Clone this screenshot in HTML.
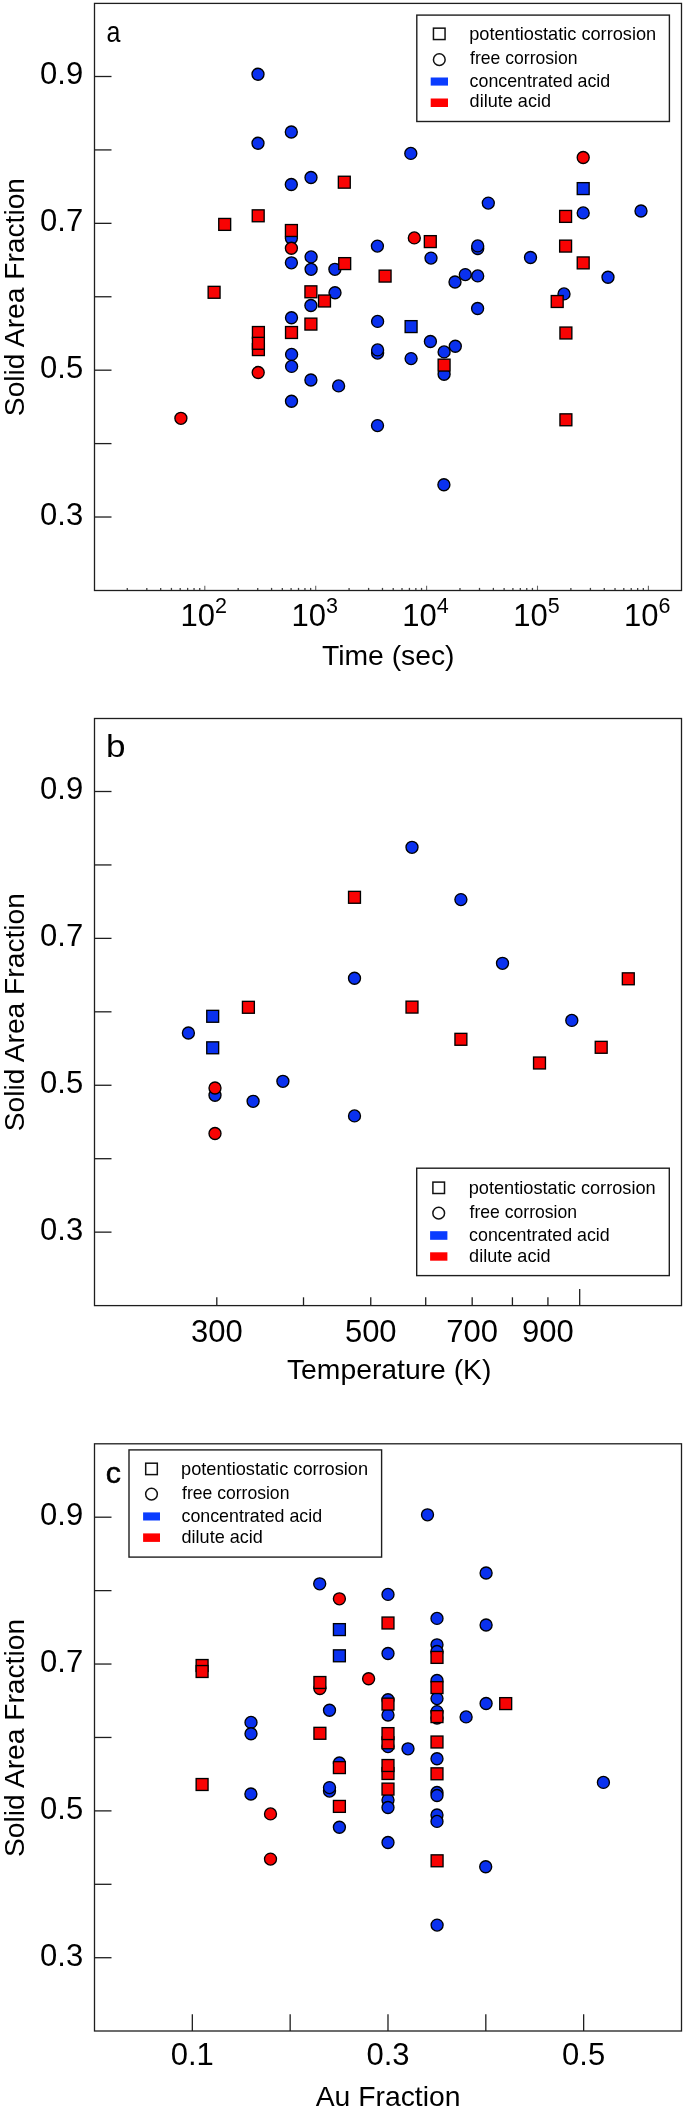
<!DOCTYPE html>
<html><head><meta charset="utf-8"><style>
html,body{margin:0;padding:0;background:#fff;}
body{width:685px;height:2109px;overflow:hidden;}
svg{display:block;will-change:transform;}
</style></head><body>
<svg width="685" height="2109" viewBox="0 0 685 2109" font-family='"Liberation Sans", sans-serif' fill="#000">
<rect width="685" height="2109" fill="#fff"/>
<line x1="127.28" y1="590.50" x2="127.28" y2="587.90" stroke="#444" stroke-width="1.3"/>
<line x1="146.81" y1="590.50" x2="146.81" y2="587.90" stroke="#444" stroke-width="1.3"/>
<line x1="160.67" y1="590.50" x2="160.67" y2="587.90" stroke="#444" stroke-width="1.3"/>
<line x1="171.42" y1="590.50" x2="171.42" y2="587.90" stroke="#444" stroke-width="1.3"/>
<line x1="180.20" y1="590.50" x2="180.20" y2="587.90" stroke="#444" stroke-width="1.3"/>
<line x1="187.62" y1="590.50" x2="187.62" y2="587.90" stroke="#444" stroke-width="1.3"/>
<line x1="194.05" y1="590.50" x2="194.05" y2="587.90" stroke="#444" stroke-width="1.3"/>
<line x1="199.73" y1="590.50" x2="199.73" y2="587.90" stroke="#444" stroke-width="1.3"/>
<line x1="204.80" y1="590.50" x2="204.80" y2="585.70" stroke="#666" stroke-width="1.1"/>
<line x1="238.18" y1="590.50" x2="238.18" y2="587.90" stroke="#444" stroke-width="1.3"/>
<line x1="257.71" y1="590.50" x2="257.71" y2="587.90" stroke="#444" stroke-width="1.3"/>
<line x1="271.57" y1="590.50" x2="271.57" y2="587.90" stroke="#444" stroke-width="1.3"/>
<line x1="282.32" y1="590.50" x2="282.32" y2="587.90" stroke="#444" stroke-width="1.3"/>
<line x1="291.10" y1="590.50" x2="291.10" y2="587.90" stroke="#444" stroke-width="1.3"/>
<line x1="298.52" y1="590.50" x2="298.52" y2="587.90" stroke="#444" stroke-width="1.3"/>
<line x1="304.95" y1="590.50" x2="304.95" y2="587.90" stroke="#444" stroke-width="1.3"/>
<line x1="310.63" y1="590.50" x2="310.63" y2="587.90" stroke="#444" stroke-width="1.3"/>
<line x1="315.70" y1="590.50" x2="315.70" y2="585.70" stroke="#666" stroke-width="1.1"/>
<line x1="349.08" y1="590.50" x2="349.08" y2="587.90" stroke="#444" stroke-width="1.3"/>
<line x1="368.61" y1="590.50" x2="368.61" y2="587.90" stroke="#444" stroke-width="1.3"/>
<line x1="382.47" y1="590.50" x2="382.47" y2="587.90" stroke="#444" stroke-width="1.3"/>
<line x1="393.22" y1="590.50" x2="393.22" y2="587.90" stroke="#444" stroke-width="1.3"/>
<line x1="402.00" y1="590.50" x2="402.00" y2="587.90" stroke="#444" stroke-width="1.3"/>
<line x1="409.42" y1="590.50" x2="409.42" y2="587.90" stroke="#444" stroke-width="1.3"/>
<line x1="415.85" y1="590.50" x2="415.85" y2="587.90" stroke="#444" stroke-width="1.3"/>
<line x1="421.53" y1="590.50" x2="421.53" y2="587.90" stroke="#444" stroke-width="1.3"/>
<line x1="426.60" y1="590.50" x2="426.60" y2="585.70" stroke="#666" stroke-width="1.1"/>
<line x1="459.98" y1="590.50" x2="459.98" y2="587.90" stroke="#444" stroke-width="1.3"/>
<line x1="479.51" y1="590.50" x2="479.51" y2="587.90" stroke="#444" stroke-width="1.3"/>
<line x1="493.37" y1="590.50" x2="493.37" y2="587.90" stroke="#444" stroke-width="1.3"/>
<line x1="504.12" y1="590.50" x2="504.12" y2="587.90" stroke="#444" stroke-width="1.3"/>
<line x1="512.90" y1="590.50" x2="512.90" y2="587.90" stroke="#444" stroke-width="1.3"/>
<line x1="520.32" y1="590.50" x2="520.32" y2="587.90" stroke="#444" stroke-width="1.3"/>
<line x1="526.75" y1="590.50" x2="526.75" y2="587.90" stroke="#444" stroke-width="1.3"/>
<line x1="532.43" y1="590.50" x2="532.43" y2="587.90" stroke="#444" stroke-width="1.3"/>
<line x1="537.50" y1="590.50" x2="537.50" y2="585.70" stroke="#666" stroke-width="1.1"/>
<line x1="570.88" y1="590.50" x2="570.88" y2="587.90" stroke="#444" stroke-width="1.3"/>
<line x1="590.41" y1="590.50" x2="590.41" y2="587.90" stroke="#444" stroke-width="1.3"/>
<line x1="604.27" y1="590.50" x2="604.27" y2="587.90" stroke="#444" stroke-width="1.3"/>
<line x1="615.02" y1="590.50" x2="615.02" y2="587.90" stroke="#444" stroke-width="1.3"/>
<line x1="623.80" y1="590.50" x2="623.80" y2="587.90" stroke="#444" stroke-width="1.3"/>
<line x1="631.22" y1="590.50" x2="631.22" y2="587.90" stroke="#444" stroke-width="1.3"/>
<line x1="637.65" y1="590.50" x2="637.65" y2="587.90" stroke="#444" stroke-width="1.3"/>
<line x1="643.33" y1="590.50" x2="643.33" y2="587.90" stroke="#444" stroke-width="1.3"/>
<line x1="648.40" y1="590.50" x2="648.40" y2="585.70" stroke="#666" stroke-width="1.1"/>
<text x="180.50" y="626.1" font-size="31">10<tspan dy="-13.6" font-size="21.5">2</tspan></text>
<text x="291.40" y="626.1" font-size="31">10<tspan dy="-13.6" font-size="21.5">3</tspan></text>
<text x="402.30" y="626.1" font-size="31">10<tspan dy="-13.6" font-size="21.5">4</tspan></text>
<text x="513.20" y="626.1" font-size="31">10<tspan dy="-13.6" font-size="21.5">5</tspan></text>
<text x="624.10" y="626.1" font-size="31">10<tspan dy="-13.6" font-size="21.5">6</tspan></text>
<text x="388.25" y="664.60" font-size="28.3" text-anchor="middle" >Time (sec)</text>
<line x1="94.50" y1="517.02" x2="111.50" y2="517.02" stroke="#1e1e1e" stroke-width="1.3"/>
<line x1="94.50" y1="443.60" x2="111.50" y2="443.60" stroke="#1e1e1e" stroke-width="1.3"/>
<line x1="94.50" y1="370.18" x2="111.50" y2="370.18" stroke="#1e1e1e" stroke-width="1.3"/>
<line x1="94.50" y1="296.76" x2="111.50" y2="296.76" stroke="#1e1e1e" stroke-width="1.3"/>
<line x1="94.50" y1="223.34" x2="111.50" y2="223.34" stroke="#1e1e1e" stroke-width="1.3"/>
<line x1="94.50" y1="149.92" x2="111.50" y2="149.92" stroke="#1e1e1e" stroke-width="1.3"/>
<line x1="94.50" y1="76.50" x2="111.50" y2="76.50" stroke="#1e1e1e" stroke-width="1.3"/>
<text x="83.20" y="524.92" font-size="31" text-anchor="end" >0.3</text>
<text x="83.20" y="378.08" font-size="31" text-anchor="end" >0.5</text>
<text x="83.20" y="231.24" font-size="31" text-anchor="end" >0.7</text>
<text x="83.20" y="84.40" font-size="31" text-anchor="end" >0.9</text>
<text transform="translate(23.6,297.05) rotate(-90)" font-size="28.2" text-anchor="middle">Solid Area Fraction</text>
<circle cx="258.00" cy="74.20" r="6.0" fill="#0a31ef" stroke="#000" stroke-width="1.35"/>
<circle cx="291.30" cy="132.00" r="6.0" fill="#0a31ef" stroke="#000" stroke-width="1.35"/>
<circle cx="258.00" cy="143.20" r="6.0" fill="#0a31ef" stroke="#000" stroke-width="1.35"/>
<circle cx="410.80" cy="153.40" r="6.0" fill="#0a31ef" stroke="#000" stroke-width="1.35"/>
<circle cx="311.00" cy="177.50" r="6.0" fill="#0a31ef" stroke="#000" stroke-width="1.35"/>
<circle cx="291.30" cy="184.50" r="6.0" fill="#0a31ef" stroke="#000" stroke-width="1.35"/>
<circle cx="488.30" cy="203.10" r="6.0" fill="#0a31ef" stroke="#000" stroke-width="1.35"/>
<circle cx="583.20" cy="212.90" r="6.0" fill="#0a31ef" stroke="#000" stroke-width="1.35"/>
<circle cx="641.00" cy="211.00" r="6.0" fill="#0a31ef" stroke="#000" stroke-width="1.35"/>
<circle cx="291.40" cy="238.20" r="6.0" fill="#0a31ef" stroke="#000" stroke-width="1.35"/>
<circle cx="311.10" cy="256.90" r="6.0" fill="#0a31ef" stroke="#000" stroke-width="1.35"/>
<circle cx="291.40" cy="262.80" r="6.0" fill="#0a31ef" stroke="#000" stroke-width="1.35"/>
<circle cx="311.10" cy="269.30" r="6.0" fill="#0a31ef" stroke="#000" stroke-width="1.35"/>
<circle cx="334.90" cy="269.30" r="6.0" fill="#0a31ef" stroke="#000" stroke-width="1.35"/>
<circle cx="377.40" cy="246.10" r="6.0" fill="#0a31ef" stroke="#000" stroke-width="1.35"/>
<circle cx="431.00" cy="258.10" r="6.0" fill="#0a31ef" stroke="#000" stroke-width="1.35"/>
<circle cx="477.70" cy="248.50" r="6.0" fill="#0a31ef" stroke="#000" stroke-width="1.35"/>
<circle cx="477.70" cy="245.90" r="6.0" fill="#0a31ef" stroke="#000" stroke-width="1.35"/>
<circle cx="530.50" cy="257.50" r="6.0" fill="#0a31ef" stroke="#000" stroke-width="1.35"/>
<circle cx="455.00" cy="282.00" r="6.0" fill="#0a31ef" stroke="#000" stroke-width="1.35"/>
<circle cx="465.30" cy="274.60" r="6.0" fill="#0a31ef" stroke="#000" stroke-width="1.35"/>
<circle cx="477.70" cy="275.90" r="6.0" fill="#0a31ef" stroke="#000" stroke-width="1.35"/>
<circle cx="608.00" cy="277.20" r="6.0" fill="#0a31ef" stroke="#000" stroke-width="1.35"/>
<circle cx="335.00" cy="292.70" r="6.0" fill="#0a31ef" stroke="#000" stroke-width="1.35"/>
<circle cx="564.00" cy="293.90" r="6.0" fill="#0a31ef" stroke="#000" stroke-width="1.35"/>
<circle cx="310.90" cy="305.50" r="6.0" fill="#0a31ef" stroke="#000" stroke-width="1.35"/>
<circle cx="477.60" cy="308.50" r="6.0" fill="#0a31ef" stroke="#000" stroke-width="1.35"/>
<circle cx="291.50" cy="317.70" r="6.0" fill="#0a31ef" stroke="#000" stroke-width="1.35"/>
<circle cx="377.60" cy="321.40" r="6.0" fill="#0a31ef" stroke="#000" stroke-width="1.35"/>
<circle cx="430.40" cy="341.50" r="6.0" fill="#0a31ef" stroke="#000" stroke-width="1.35"/>
<circle cx="455.30" cy="346.20" r="6.0" fill="#0a31ef" stroke="#000" stroke-width="1.35"/>
<circle cx="444.10" cy="351.90" r="6.0" fill="#0a31ef" stroke="#000" stroke-width="1.35"/>
<circle cx="377.60" cy="353.10" r="6.0" fill="#0a31ef" stroke="#000" stroke-width="1.35"/>
<circle cx="377.60" cy="349.90" r="6.0" fill="#0a31ef" stroke="#000" stroke-width="1.35"/>
<circle cx="411.10" cy="358.60" r="6.0" fill="#0a31ef" stroke="#000" stroke-width="1.35"/>
<circle cx="444.10" cy="374.20" r="6.0" fill="#0a31ef" stroke="#000" stroke-width="1.35"/>
<circle cx="291.60" cy="354.40" r="6.0" fill="#0a31ef" stroke="#000" stroke-width="1.35"/>
<circle cx="291.60" cy="366.40" r="6.0" fill="#0a31ef" stroke="#000" stroke-width="1.35"/>
<circle cx="310.90" cy="380.00" r="6.0" fill="#0a31ef" stroke="#000" stroke-width="1.35"/>
<circle cx="338.60" cy="385.90" r="6.0" fill="#0a31ef" stroke="#000" stroke-width="1.35"/>
<circle cx="291.50" cy="401.20" r="6.0" fill="#0a31ef" stroke="#000" stroke-width="1.35"/>
<circle cx="377.50" cy="425.60" r="6.0" fill="#0a31ef" stroke="#000" stroke-width="1.35"/>
<circle cx="443.90" cy="484.70" r="6.0" fill="#0a31ef" stroke="#000" stroke-width="1.35"/>
<rect x="577.25" y="182.65" width="11.9" height="11.9" fill="#0a31ef" stroke="#000" stroke-width="1.35"/>
<rect x="405.15" y="320.65" width="11.9" height="11.9" fill="#0a31ef" stroke="#000" stroke-width="1.35"/>
<circle cx="583.20" cy="157.50" r="6.0" fill="#f80303" stroke="#000" stroke-width="1.35"/>
<circle cx="291.40" cy="248.20" r="6.0" fill="#f80303" stroke="#000" stroke-width="1.35"/>
<circle cx="414.30" cy="237.90" r="6.0" fill="#f80303" stroke="#000" stroke-width="1.35"/>
<circle cx="258.20" cy="372.50" r="6.0" fill="#f80303" stroke="#000" stroke-width="1.35"/>
<circle cx="180.90" cy="418.30" r="6.0" fill="#f80303" stroke="#000" stroke-width="1.35"/>
<rect x="338.35" y="176.25" width="11.9" height="11.9" fill="#f80303" stroke="#000" stroke-width="1.35"/>
<rect x="252.25" y="209.85" width="11.9" height="11.9" fill="#f80303" stroke="#000" stroke-width="1.35"/>
<rect x="218.75" y="218.45" width="11.9" height="11.9" fill="#f80303" stroke="#000" stroke-width="1.35"/>
<rect x="285.45" y="224.55" width="11.9" height="11.9" fill="#f80303" stroke="#000" stroke-width="1.35"/>
<rect x="424.35" y="235.65" width="11.9" height="11.9" fill="#f80303" stroke="#000" stroke-width="1.35"/>
<rect x="559.65" y="210.45" width="11.9" height="11.9" fill="#f80303" stroke="#000" stroke-width="1.35"/>
<rect x="559.65" y="240.15" width="11.9" height="11.9" fill="#f80303" stroke="#000" stroke-width="1.35"/>
<rect x="577.25" y="256.95" width="11.9" height="11.9" fill="#f80303" stroke="#000" stroke-width="1.35"/>
<rect x="338.75" y="257.65" width="11.9" height="11.9" fill="#f80303" stroke="#000" stroke-width="1.35"/>
<rect x="379.15" y="270.15" width="11.9" height="11.9" fill="#f80303" stroke="#000" stroke-width="1.35"/>
<rect x="208.15" y="286.35" width="11.9" height="11.9" fill="#f80303" stroke="#000" stroke-width="1.35"/>
<rect x="304.95" y="285.85" width="11.9" height="11.9" fill="#f80303" stroke="#000" stroke-width="1.35"/>
<rect x="318.55" y="295.05" width="11.9" height="11.9" fill="#f80303" stroke="#000" stroke-width="1.35"/>
<rect x="551.25" y="295.55" width="11.9" height="11.9" fill="#f80303" stroke="#000" stroke-width="1.35"/>
<rect x="304.95" y="318.15" width="11.9" height="11.9" fill="#f80303" stroke="#000" stroke-width="1.35"/>
<rect x="285.55" y="326.55" width="11.9" height="11.9" fill="#f80303" stroke="#000" stroke-width="1.35"/>
<rect x="252.45" y="326.55" width="11.9" height="11.9" fill="#f80303" stroke="#000" stroke-width="1.35"/>
<rect x="252.45" y="343.65" width="11.9" height="11.9" fill="#f80303" stroke="#000" stroke-width="1.35"/>
<rect x="252.45" y="337.35" width="11.9" height="11.9" fill="#f80303" stroke="#000" stroke-width="1.35"/>
<rect x="438.15" y="359.15" width="11.9" height="11.9" fill="#f80303" stroke="#000" stroke-width="1.35"/>
<rect x="559.95" y="327.05" width="11.9" height="11.9" fill="#f80303" stroke="#000" stroke-width="1.35"/>
<rect x="559.95" y="413.85" width="11.9" height="11.9" fill="#f80303" stroke="#000" stroke-width="1.35"/>
<rect x="94.5" y="3.4" width="587.00" height="587.10" fill="none" stroke="#1e1e1e" stroke-width="1.3"/>
<text x="106.4" y="41.6" font-size="29.5" textLength="13.9" lengthAdjust="spacingAndGlyphs">a</text>
<rect x="416.8" y="15.1" width="252.6" height="106.4" fill="#fff" stroke="#1e1e1e" stroke-width="1.4"/>
<rect x="433.45" y="28.15" width="11.6" height="11.4" fill="none" stroke="#111" stroke-width="1.5"/>
<circle cx="439.30" cy="59.70" r="5.85" fill="none" stroke="#111" stroke-width="1.5"/>
<rect x="430.7" y="77.5" width="17.30" height="8.10" fill="#0a3cff"/>
<rect x="430.7" y="98.5" width="17.30" height="8.50" fill="#ff0000"/>
<text x="469.20" y="40.10" font-size="18.5" textLength="187.0" lengthAdjust="spacingAndGlyphs">potentiostatic corrosion</text>
<text x="470.10" y="64.10" font-size="18.5" textLength="107.4" lengthAdjust="spacingAndGlyphs">free corrosion</text>
<text x="469.60" y="86.60" font-size="18.5" textLength="140.6" lengthAdjust="spacingAndGlyphs">concentrated acid</text>
<text x="469.60" y="107.00" font-size="18.5" textLength="81.4" lengthAdjust="spacingAndGlyphs">dilute acid</text>
<line x1="216.80" y1="1305.60" x2="216.80" y2="1297.30" stroke="#1e1e1e" stroke-width="1.3"/>
<line x1="303.51" y1="1305.60" x2="303.51" y2="1297.30" stroke="#1e1e1e" stroke-width="1.3"/>
<line x1="370.76" y1="1305.60" x2="370.76" y2="1297.30" stroke="#1e1e1e" stroke-width="1.3"/>
<line x1="425.71" y1="1305.60" x2="425.71" y2="1297.30" stroke="#1e1e1e" stroke-width="1.3"/>
<line x1="472.18" y1="1305.60" x2="472.18" y2="1297.30" stroke="#1e1e1e" stroke-width="1.3"/>
<line x1="512.42" y1="1305.60" x2="512.42" y2="1297.30" stroke="#1e1e1e" stroke-width="1.3"/>
<line x1="547.92" y1="1305.60" x2="547.92" y2="1297.30" stroke="#1e1e1e" stroke-width="1.3"/>
<line x1="579.68" y1="1305.60" x2="579.68" y2="1288.90" stroke="#1e1e1e" stroke-width="1.3"/>
<text x="216.80" y="1341.50" font-size="31" text-anchor="middle" >300</text>
<text x="370.76" y="1341.50" font-size="31" text-anchor="middle" >500</text>
<text x="472.18" y="1341.50" font-size="31" text-anchor="middle" >700</text>
<text x="547.92" y="1341.50" font-size="31" text-anchor="middle" >900</text>
<text x="389.20" y="1379.20" font-size="28.3" text-anchor="middle" >Temperature (K)</text>
<line x1="94.50" y1="1232.14" x2="111.50" y2="1232.14" stroke="#1e1e1e" stroke-width="1.3"/>
<line x1="94.50" y1="1158.70" x2="111.50" y2="1158.70" stroke="#1e1e1e" stroke-width="1.3"/>
<line x1="94.50" y1="1085.26" x2="111.50" y2="1085.26" stroke="#1e1e1e" stroke-width="1.3"/>
<line x1="94.50" y1="1011.82" x2="111.50" y2="1011.82" stroke="#1e1e1e" stroke-width="1.3"/>
<line x1="94.50" y1="938.38" x2="111.50" y2="938.38" stroke="#1e1e1e" stroke-width="1.3"/>
<line x1="94.50" y1="864.94" x2="111.50" y2="864.94" stroke="#1e1e1e" stroke-width="1.3"/>
<line x1="94.50" y1="791.50" x2="111.50" y2="791.50" stroke="#1e1e1e" stroke-width="1.3"/>
<text x="83.20" y="1240.04" font-size="31" text-anchor="end" >0.3</text>
<text x="83.20" y="1093.16" font-size="31" text-anchor="end" >0.5</text>
<text x="83.20" y="946.28" font-size="31" text-anchor="end" >0.7</text>
<text x="83.20" y="799.40" font-size="31" text-anchor="end" >0.9</text>
<text transform="translate(23.6,1012.15) rotate(-90)" font-size="28.2" text-anchor="middle">Solid Area Fraction</text>
<circle cx="412.00" cy="847.30" r="6.0" fill="#0a31ef" stroke="#000" stroke-width="1.35"/>
<circle cx="460.90" cy="899.60" r="6.0" fill="#0a31ef" stroke="#000" stroke-width="1.35"/>
<circle cx="502.50" cy="963.30" r="6.0" fill="#0a31ef" stroke="#000" stroke-width="1.35"/>
<circle cx="354.50" cy="978.20" r="6.0" fill="#0a31ef" stroke="#000" stroke-width="1.35"/>
<circle cx="188.40" cy="1033.00" r="6.0" fill="#0a31ef" stroke="#000" stroke-width="1.35"/>
<circle cx="282.90" cy="1081.30" r="6.0" fill="#0a31ef" stroke="#000" stroke-width="1.35"/>
<circle cx="215.00" cy="1095.20" r="6.0" fill="#0a31ef" stroke="#000" stroke-width="1.35"/>
<circle cx="253.10" cy="1101.30" r="6.0" fill="#0a31ef" stroke="#000" stroke-width="1.35"/>
<circle cx="354.50" cy="1115.90" r="6.0" fill="#0a31ef" stroke="#000" stroke-width="1.35"/>
<circle cx="571.80" cy="1020.40" r="6.0" fill="#0a31ef" stroke="#000" stroke-width="1.35"/>
<rect x="206.75" y="1010.35" width="11.9" height="11.9" fill="#0a31ef" stroke="#000" stroke-width="1.35"/>
<rect x="206.75" y="1041.85" width="11.9" height="11.9" fill="#0a31ef" stroke="#000" stroke-width="1.35"/>
<circle cx="215.00" cy="1088.00" r="6.0" fill="#f80303" stroke="#000" stroke-width="1.35"/>
<circle cx="215.00" cy="1133.50" r="6.0" fill="#f80303" stroke="#000" stroke-width="1.35"/>
<rect x="348.55" y="891.35" width="11.9" height="11.9" fill="#f80303" stroke="#000" stroke-width="1.35"/>
<rect x="242.45" y="1001.35" width="11.9" height="11.9" fill="#f80303" stroke="#000" stroke-width="1.35"/>
<rect x="406.05" y="1001.15" width="11.9" height="11.9" fill="#f80303" stroke="#000" stroke-width="1.35"/>
<rect x="622.35" y="972.85" width="11.9" height="11.9" fill="#f80303" stroke="#000" stroke-width="1.35"/>
<rect x="454.95" y="1033.35" width="11.9" height="11.9" fill="#f80303" stroke="#000" stroke-width="1.35"/>
<rect x="595.25" y="1041.35" width="11.9" height="11.9" fill="#f80303" stroke="#000" stroke-width="1.35"/>
<rect x="533.55" y="1057.05" width="11.9" height="11.9" fill="#f80303" stroke="#000" stroke-width="1.35"/>
<rect x="94.5" y="718.5" width="587.00" height="587.10" fill="none" stroke="#1e1e1e" stroke-width="1.3"/>
<text x="106.0" y="756.9" font-size="31.5" textLength="19.5" lengthAdjust="spacingAndGlyphs">b</text>
<rect x="416.7" y="1168.2" width="252.6" height="107.4" fill="#fff" stroke="#1e1e1e" stroke-width="1.4"/>
<rect x="432.90" y="1182.10" width="11.6" height="11.4" fill="none" stroke="#111" stroke-width="1.5"/>
<circle cx="438.70" cy="1213.20" r="5.85" fill="none" stroke="#111" stroke-width="1.5"/>
<rect x="430.1" y="1231.2" width="17.30" height="8.60" fill="#0a3cff"/>
<rect x="430.1" y="1252.3" width="17.30" height="8.40" fill="#ff0000"/>
<text x="468.70" y="1193.90" font-size="18.5" textLength="187.0" lengthAdjust="spacingAndGlyphs">potentiostatic corrosion</text>
<text x="469.60" y="1218.00" font-size="18.5" textLength="107.4" lengthAdjust="spacingAndGlyphs">free corrosion</text>
<text x="469.10" y="1240.60" font-size="18.5" textLength="140.6" lengthAdjust="spacingAndGlyphs">concentrated acid</text>
<text x="469.10" y="1261.60" font-size="18.5" textLength="81.4" lengthAdjust="spacingAndGlyphs">dilute acid</text>
<line x1="192.33" y1="2031.00" x2="192.33" y2="2014.30" stroke="#1e1e1e" stroke-width="1.3"/>
<line x1="290.16" y1="2031.00" x2="290.16" y2="2014.30" stroke="#1e1e1e" stroke-width="1.3"/>
<line x1="387.99" y1="2031.00" x2="387.99" y2="2014.30" stroke="#1e1e1e" stroke-width="1.3"/>
<line x1="485.82" y1="2031.00" x2="485.82" y2="2014.30" stroke="#1e1e1e" stroke-width="1.3"/>
<line x1="583.65" y1="2031.00" x2="583.65" y2="2014.30" stroke="#1e1e1e" stroke-width="1.3"/>
<text x="192.33" y="2065.00" font-size="31" text-anchor="middle" >0.1</text>
<text x="387.99" y="2065.00" font-size="31" text-anchor="middle" >0.3</text>
<text x="583.65" y="2065.00" font-size="31" text-anchor="middle" >0.5</text>
<text x="388.10" y="2105.70" font-size="28.3" text-anchor="middle" >Au Fraction</text>
<line x1="94.50" y1="1957.72" x2="111.50" y2="1957.72" stroke="#1e1e1e" stroke-width="1.3"/>
<line x1="94.50" y1="1884.30" x2="111.50" y2="1884.30" stroke="#1e1e1e" stroke-width="1.3"/>
<line x1="94.50" y1="1810.88" x2="111.50" y2="1810.88" stroke="#1e1e1e" stroke-width="1.3"/>
<line x1="94.50" y1="1737.46" x2="111.50" y2="1737.46" stroke="#1e1e1e" stroke-width="1.3"/>
<line x1="94.50" y1="1664.04" x2="111.50" y2="1664.04" stroke="#1e1e1e" stroke-width="1.3"/>
<line x1="94.50" y1="1590.62" x2="111.50" y2="1590.62" stroke="#1e1e1e" stroke-width="1.3"/>
<line x1="94.50" y1="1517.20" x2="111.50" y2="1517.20" stroke="#1e1e1e" stroke-width="1.3"/>
<text x="83.20" y="1965.62" font-size="31" text-anchor="end" >0.3</text>
<text x="83.20" y="1818.78" font-size="31" text-anchor="end" >0.5</text>
<text x="83.20" y="1671.94" font-size="31" text-anchor="end" >0.7</text>
<text x="83.20" y="1525.10" font-size="31" text-anchor="end" >0.9</text>
<text transform="translate(23.6,1738.00) rotate(-90)" font-size="28.2" text-anchor="middle">Solid Area Fraction</text>
<circle cx="319.70" cy="1583.80" r="6.0" fill="#0a31ef" stroke="#000" stroke-width="1.35"/>
<circle cx="388.00" cy="1594.40" r="6.0" fill="#0a31ef" stroke="#000" stroke-width="1.35"/>
<circle cx="486.10" cy="1573.00" r="6.0" fill="#0a31ef" stroke="#000" stroke-width="1.35"/>
<circle cx="486.10" cy="1625.00" r="6.0" fill="#0a31ef" stroke="#000" stroke-width="1.35"/>
<circle cx="437.00" cy="1618.40" r="6.0" fill="#0a31ef" stroke="#000" stroke-width="1.35"/>
<circle cx="388.00" cy="1653.50" r="6.0" fill="#0a31ef" stroke="#000" stroke-width="1.35"/>
<circle cx="437.00" cy="1644.80" r="6.0" fill="#0a31ef" stroke="#000" stroke-width="1.35"/>
<circle cx="437.00" cy="1651.50" r="6.0" fill="#0a31ef" stroke="#000" stroke-width="1.35"/>
<circle cx="388.00" cy="1699.70" r="6.0" fill="#0a31ef" stroke="#000" stroke-width="1.35"/>
<circle cx="388.00" cy="1715.00" r="6.0" fill="#0a31ef" stroke="#000" stroke-width="1.35"/>
<circle cx="437.00" cy="1680.50" r="6.0" fill="#0a31ef" stroke="#000" stroke-width="1.35"/>
<circle cx="437.00" cy="1698.60" r="6.0" fill="#0a31ef" stroke="#000" stroke-width="1.35"/>
<circle cx="437.00" cy="1711.60" r="6.0" fill="#0a31ef" stroke="#000" stroke-width="1.35"/>
<circle cx="437.00" cy="1718.00" r="6.0" fill="#0a31ef" stroke="#000" stroke-width="1.35"/>
<circle cx="486.10" cy="1703.50" r="6.0" fill="#0a31ef" stroke="#000" stroke-width="1.35"/>
<circle cx="466.10" cy="1716.90" r="6.0" fill="#0a31ef" stroke="#000" stroke-width="1.35"/>
<circle cx="329.50" cy="1710.20" r="6.0" fill="#0a31ef" stroke="#000" stroke-width="1.35"/>
<circle cx="251.00" cy="1722.40" r="6.0" fill="#0a31ef" stroke="#000" stroke-width="1.35"/>
<circle cx="251.00" cy="1733.70" r="6.0" fill="#0a31ef" stroke="#000" stroke-width="1.35"/>
<circle cx="408.00" cy="1748.80" r="6.0" fill="#0a31ef" stroke="#000" stroke-width="1.35"/>
<circle cx="388.00" cy="1746.60" r="6.0" fill="#0a31ef" stroke="#000" stroke-width="1.35"/>
<circle cx="437.00" cy="1758.70" r="6.0" fill="#0a31ef" stroke="#000" stroke-width="1.35"/>
<circle cx="339.40" cy="1763.00" r="6.0" fill="#0a31ef" stroke="#000" stroke-width="1.35"/>
<circle cx="329.50" cy="1791.10" r="6.0" fill="#0a31ef" stroke="#000" stroke-width="1.35"/>
<circle cx="329.50" cy="1787.60" r="6.0" fill="#0a31ef" stroke="#000" stroke-width="1.35"/>
<circle cx="250.90" cy="1794.00" r="6.0" fill="#0a31ef" stroke="#000" stroke-width="1.35"/>
<circle cx="388.00" cy="1800.00" r="6.0" fill="#0a31ef" stroke="#000" stroke-width="1.35"/>
<circle cx="388.00" cy="1807.50" r="6.0" fill="#0a31ef" stroke="#000" stroke-width="1.35"/>
<circle cx="437.00" cy="1792.50" r="6.0" fill="#0a31ef" stroke="#000" stroke-width="1.35"/>
<circle cx="437.00" cy="1795.50" r="6.0" fill="#0a31ef" stroke="#000" stroke-width="1.35"/>
<circle cx="437.00" cy="1815.00" r="6.0" fill="#0a31ef" stroke="#000" stroke-width="1.35"/>
<circle cx="437.00" cy="1821.40" r="6.0" fill="#0a31ef" stroke="#000" stroke-width="1.35"/>
<circle cx="339.40" cy="1827.20" r="6.0" fill="#0a31ef" stroke="#000" stroke-width="1.35"/>
<circle cx="388.00" cy="1842.50" r="6.0" fill="#0a31ef" stroke="#000" stroke-width="1.35"/>
<circle cx="485.70" cy="1866.70" r="6.0" fill="#0a31ef" stroke="#000" stroke-width="1.35"/>
<circle cx="437.10" cy="1925.10" r="6.0" fill="#0a31ef" stroke="#000" stroke-width="1.35"/>
<circle cx="603.40" cy="1782.40" r="6.0" fill="#0a31ef" stroke="#000" stroke-width="1.35"/>
<circle cx="427.50" cy="1514.80" r="6.0" fill="#0a31ef" stroke="#000" stroke-width="1.35"/>
<rect x="333.45" y="1623.65" width="11.9" height="11.9" fill="#0a31ef" stroke="#000" stroke-width="1.35"/>
<rect x="333.45" y="1649.85" width="11.9" height="11.9" fill="#0a31ef" stroke="#000" stroke-width="1.35"/>
<circle cx="339.40" cy="1598.80" r="6.0" fill="#f80303" stroke="#000" stroke-width="1.35"/>
<circle cx="319.90" cy="1688.50" r="6.0" fill="#f80303" stroke="#000" stroke-width="1.35"/>
<circle cx="368.60" cy="1678.70" r="6.0" fill="#f80303" stroke="#000" stroke-width="1.35"/>
<circle cx="270.50" cy="1813.90" r="6.0" fill="#f80303" stroke="#000" stroke-width="1.35"/>
<circle cx="270.50" cy="1859.10" r="6.0" fill="#f80303" stroke="#000" stroke-width="1.35"/>
<rect x="382.05" y="1617.05" width="11.9" height="11.9" fill="#f80303" stroke="#000" stroke-width="1.35"/>
<rect x="431.05" y="1651.45" width="11.9" height="11.9" fill="#f80303" stroke="#000" stroke-width="1.35"/>
<rect x="196.15" y="1659.55" width="11.9" height="11.9" fill="#f80303" stroke="#000" stroke-width="1.35"/>
<rect x="196.15" y="1665.55" width="11.9" height="11.9" fill="#f80303" stroke="#000" stroke-width="1.35"/>
<rect x="313.95" y="1676.55" width="11.9" height="11.9" fill="#f80303" stroke="#000" stroke-width="1.35"/>
<rect x="431.05" y="1681.65" width="11.9" height="11.9" fill="#f80303" stroke="#000" stroke-width="1.35"/>
<rect x="382.05" y="1698.15" width="11.9" height="11.9" fill="#f80303" stroke="#000" stroke-width="1.35"/>
<rect x="431.05" y="1710.65" width="11.9" height="11.9" fill="#f80303" stroke="#000" stroke-width="1.35"/>
<rect x="499.75" y="1697.65" width="11.9" height="11.9" fill="#f80303" stroke="#000" stroke-width="1.35"/>
<rect x="313.95" y="1727.35" width="11.9" height="11.9" fill="#f80303" stroke="#000" stroke-width="1.35"/>
<rect x="382.05" y="1736.85" width="11.9" height="11.9" fill="#f80303" stroke="#000" stroke-width="1.35"/>
<rect x="382.05" y="1727.65" width="11.9" height="11.9" fill="#f80303" stroke="#000" stroke-width="1.35"/>
<rect x="431.05" y="1736.05" width="11.9" height="11.9" fill="#f80303" stroke="#000" stroke-width="1.35"/>
<rect x="333.45" y="1761.65" width="11.9" height="11.9" fill="#f80303" stroke="#000" stroke-width="1.35"/>
<rect x="382.05" y="1767.55" width="11.9" height="11.9" fill="#f80303" stroke="#000" stroke-width="1.35"/>
<rect x="382.05" y="1759.55" width="11.9" height="11.9" fill="#f80303" stroke="#000" stroke-width="1.35"/>
<rect x="431.05" y="1767.85" width="11.9" height="11.9" fill="#f80303" stroke="#000" stroke-width="1.35"/>
<rect x="382.05" y="1783.15" width="11.9" height="11.9" fill="#f80303" stroke="#000" stroke-width="1.35"/>
<rect x="196.15" y="1778.55" width="11.9" height="11.9" fill="#f80303" stroke="#000" stroke-width="1.35"/>
<rect x="333.45" y="1800.45" width="11.9" height="11.9" fill="#f80303" stroke="#000" stroke-width="1.35"/>
<rect x="431.15" y="1854.85" width="11.9" height="11.9" fill="#f80303" stroke="#000" stroke-width="1.35"/>
<rect x="94.5" y="1443.8" width="587.00" height="587.20" fill="none" stroke="#1e1e1e" stroke-width="1.3"/>
<text x="105.8" y="1482.9" font-size="29.5" textLength="15.2" lengthAdjust="spacingAndGlyphs" stroke="#000" stroke-width="0.5">c</text>
<rect x="129.0" y="1449.9" width="252.6" height="107.2" fill="#fff" stroke="#1e1e1e" stroke-width="1.4"/>
<rect x="145.70" y="1463.20" width="11.6" height="11.4" fill="none" stroke="#111" stroke-width="1.5"/>
<circle cx="151.50" cy="1494.10" r="5.85" fill="none" stroke="#111" stroke-width="1.5"/>
<rect x="143.1" y="1512.4" width="16.90" height="8.10" fill="#0a3cff"/>
<rect x="143.1" y="1533.4" width="16.90" height="8.50" fill="#ff0000"/>
<text x="181.10" y="1475.00" font-size="18.5" textLength="187.0" lengthAdjust="spacingAndGlyphs">potentiostatic corrosion</text>
<text x="182.00" y="1499.00" font-size="18.5" textLength="107.4" lengthAdjust="spacingAndGlyphs">free corrosion</text>
<text x="181.50" y="1521.50" font-size="18.5" textLength="140.6" lengthAdjust="spacingAndGlyphs">concentrated acid</text>
<text x="181.50" y="1543.00" font-size="18.5" textLength="81.4" lengthAdjust="spacingAndGlyphs">dilute acid</text>
</svg>
</body></html>
